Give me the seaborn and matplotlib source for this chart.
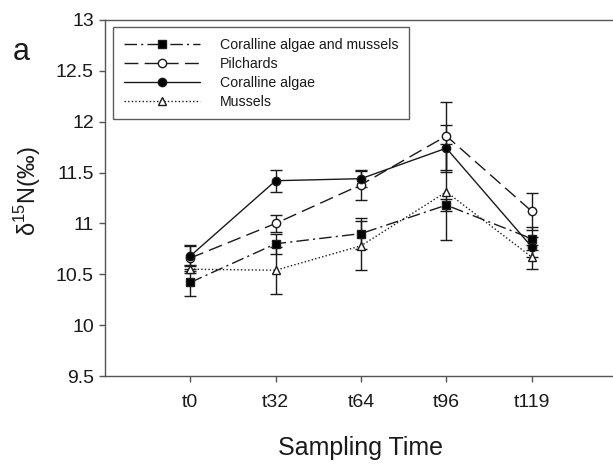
import numpy as np
import pandas as pd
import matplotlib
matplotlib.use("Agg")
import matplotlib.pyplot as plt
import seaborn as sns

# Sampling times and mean δ15N values (‰) with their error bars
times = ["t0", "t32", "t64", "t96", "t119"]

series_names = ["Coralline algae and mussels", "Pilchards", "Coralline algae", "Mussels"]

coralline_mussels = [10.42, 10.80, 10.90, 11.18, 10.85]
coralline_mussels_err = [0.13, 0.10, 0.15, 0.06, 0.11]

pilchards = [10.66, 11.00, 11.38, 11.86, 11.12]
pilchards_err = [0.13, 0.08, 0.15, 0.33, 0.18]

coralline = [10.68, 11.42, 11.44, 11.74, 10.77]
coralline_err = [0.10, 0.11, 0.08, 0.23, 0.10]

mussels = [10.55, 10.54, 10.78, 11.31, 10.67]
mussels_err = [0.04, 0.23, 0.24, 0.47, 0.12]

y_ticks = [9.5, 10, 10.5, 11, 11.5, 12, 12.5, 13]

sns.set_style("ticks")
plt.rcParams["font.family"] = ["Liberation Sans", "DejaVu Sans"]
plt.rcParams["mathtext.fontset"] = "custom"
plt.rcParams["mathtext.rm"] = "Liberation Sans"

fig = plt.figure(figsize=(6.13, 4.65), dpi=100)
ax = fig.add_axes([105 / 613, 89 / 465, 512 / 613, 356 / 465])

x_pos = np.arange(len(times))

styles = [
    dict(values=coralline_mussels, err=coralline_mussels_err, marker="s",
         mfc="black", ls=(0, (9, 3, 1.5, 3))),
    dict(values=pilchards, err=pilchards_err, marker="o",
         mfc="white", ls=(0, (10, 4.5))),
    dict(values=coralline, err=coralline_err, marker="o",
         mfc="black", ls="-"),
    dict(values=mussels, err=mussels_err, marker="^",
         mfc="white", ls=(0, (1, 1.6))),
]

ink = "#1a1a1a"
for name, st in zip(series_names, styles):
    df = pd.DataFrame({"x": x_pos, "y": st["values"]})
    ax.errorbar(x_pos, st["values"], yerr=st["err"], fmt="none",
                ecolor=ink, elinewidth=1.0, capsize=4.5, capthick=1.0, zorder=2)
    sns.lineplot(data=df, x="x", y="y", ax=ax, color=ink, lw=1.0,
                 linestyle=st["ls"], marker=st["marker"], markersize=6,
                 markerfacecolor=st["mfc"], markeredgecolor=ink,
                 markeredgewidth=1.0, label=name, zorder=3)

ax.set_xlim(-1, 5)
ax.set_ylim(9.5, 13)
ax.set_xticks(x_pos)
ax.set_xticklabels(times)
ax.set_yticks(y_ticks)
ax.set_yticklabels([f"{v:g}" for v in y_ticks])

for side in ["left", "bottom", "top", "right"]:
    ax.spines[side].set_color("#555555")
    ax.spines[side].set_linewidth(1.0)

ax.tick_params(axis="both", direction="out", length=4, width=1.0,
               color="#555555", labelsize=14, labelcolor=ink, pad=4)
ax.tick_params(axis="x", pad=9)

ax.set_xlabel("Sampling Time", fontsize=18, color=ink, labelpad=18)
ax.set_ylabel(r"δ$^{\mathregular{15}}$N(‰)", fontsize=17, color=ink)
ax.yaxis.set_label_coords(-0.122, 0.52)

leg = ax.legend(loc="upper left", bbox_to_anchor=(0.0156, 0.98),
                borderaxespad=0, fontsize=10.2, handlelength=5.4,
                handletextpad=1.4, labelspacing=0.35, borderpad=0.75,
                frameon=True, fancybox=False)
leg.get_frame().set_edgecolor("#333333")
leg.get_frame().set_linewidth(1.0)
for t in leg.get_texts():
    t.set_color(ink)

fig.text(13 / 613, 1 - 60 / 465, "a", fontsize=22, color=ink, va="baseline")

fig.savefig("out.png", dpi=100, facecolor="white")
